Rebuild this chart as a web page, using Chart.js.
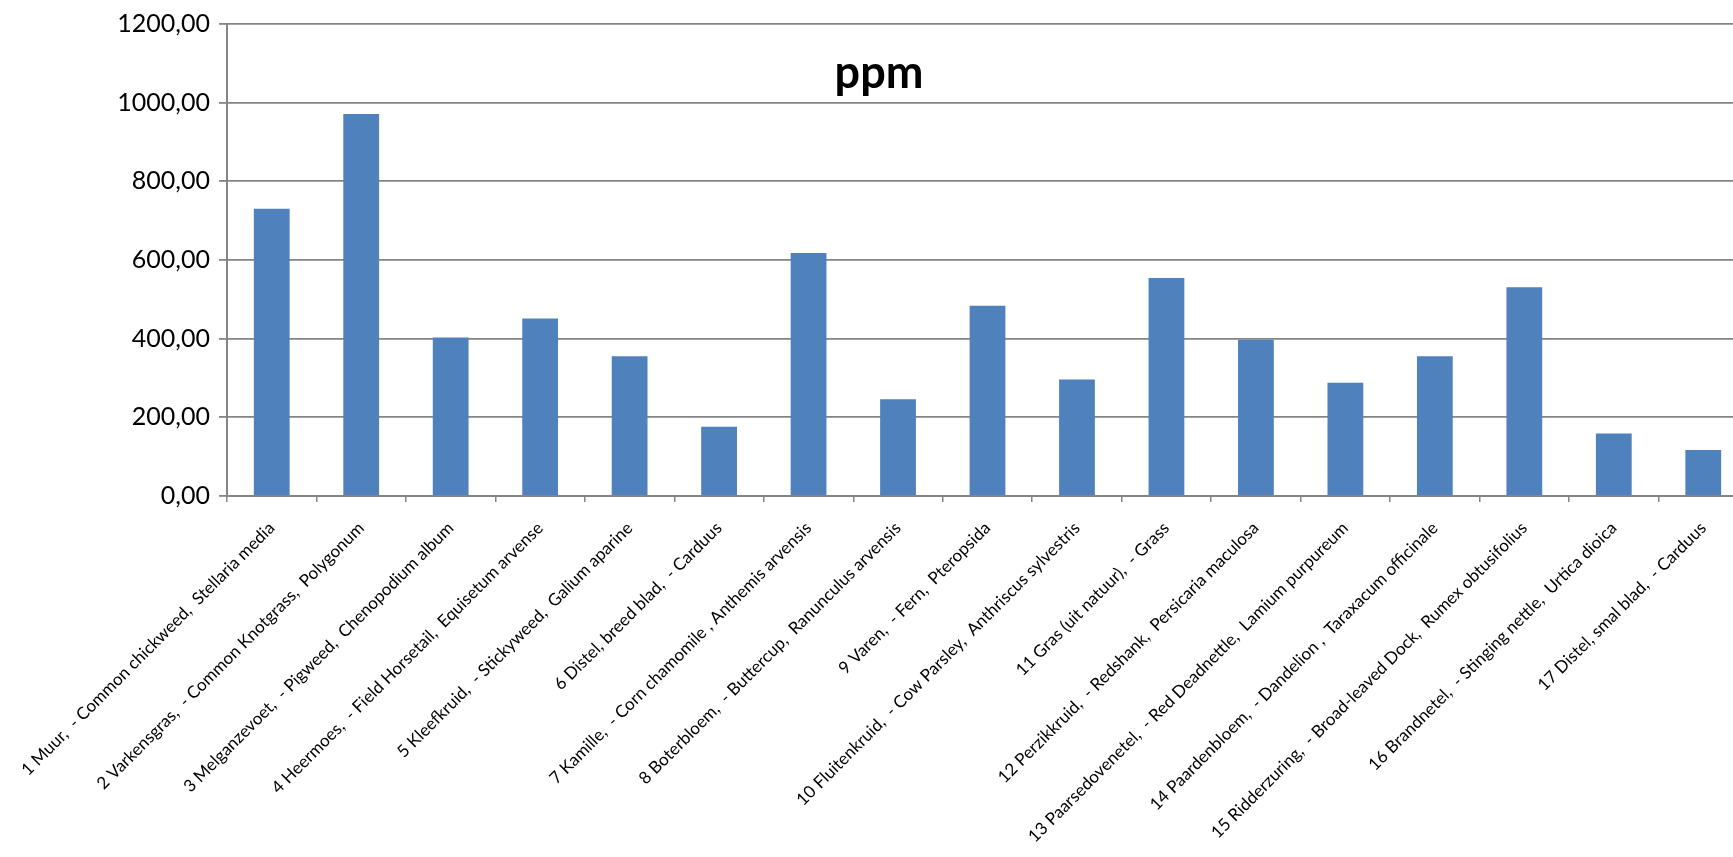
<!DOCTYPE html>
<html>
<head>
<meta charset="utf-8">
<script src="https://cdn.jsdelivr.net/npm/chart.js@4/dist/chart.umd.min.js"></script>
<style>
    html, body { margin: 0; padding: 0; background: #ffffff; overflow: hidden; }
    #wrap { position: relative; width: 1749px; height: 857px; }
</style>
</head>
<body>
<div id="wrap"><canvas id="chartPpm"></canvas></div>
<script>
// Categorieën (onkruiden) en gemeten waarden in ppm
const categorieen = [
    '1 Muur,  - Common chickweed,  Stellaria media',
    '2 Varkensgras,  - Common Knotgrass,  Polygonum',
    '3 Melganzevoet,  - Pigweed,  Chenopodium album',
    '4 Heermoes,  - Field Horsetail,  Equisetum arvense',
    '5 Kleefkruid,  - Stickyweed,  Galium aparine',
    '6 Distel, breed blad,  - Carduus',
    '7 Kamille,  - Corn chamomile , Anthemis arvensis',
    '8 Boterbloem,  - Buttercup,  Ranunculus arvensis',
    '9 Varen,  - Fern,  Pteropsida',
    '10 Fluitenkruid,  - Cow Parsley,  Anthriscus sylvestris',
    '11 Gras (uit natuur),  - Grass',
    '12 Perzikkruid,  - Redshank,  Persicaria maculosa',
    '13 Paarsedovenetel,  - Red Deadnettle,  Lamium purpureum',
    '14 Paardenbloem,  - Dandelion ,  Taraxacum officinale',
    '15 Ridderzuring,  - Broad-leaved Dock,  Rumex obtusifolius',
    '16 Brandnetel,  - Stinging nettle,  Urtica dioica',
    '17 Distel, smal blad,  - Carduus'
];

const waarden = [730, 971, 403, 451, 355, 176, 618, 246, 484, 296, 554, 397, 288, 355, 531, 159, 117];

const titel = 'ppm';
const yMin = 0;
const yMax = 1200;
const yStap = 200;

const C = {
    bar: '#4f81bd',
    grid: '#858585',
    text: '#000000',
};

const FONT = "Lato, 'Open Sans', sans-serif";

// titel staat in het plotvlak (zoals in Excel), dus zelf tekenen
const titelPlugin = {
    id: 'titelPlugin',
    afterDraw(chart) {
        const ctx = chart.ctx;
        ctx.save();
        ctx.font = 'bold 45px ' + FONT;
        ctx.fillStyle = C.text;
        ctx.textAlign = 'center';
        ctx.textBaseline = 'alphabetic';
        ctx.fillText(titel, 879, 88);
        ctx.restore();
    }
};

new Chart(document.getElementById('chartPpm'), {
    type: 'bar',
    data: {
        labels: categorieen,
        datasets: [{
            label: titel,
            data: waarden,
            backgroundColor: C.bar,
            borderWidth: 0,
            categoryPercentage: 1.0,
            barPercentage: 0.4,
        }]
    },
    options: {
        responsive: true,
        maintainAspectRatio: false,
        animation: false,
        layout: { padding: { top: 16, right: 1, bottom: 0, left: 0 } },
        plugins: {
            legend: { display: false },
            tooltip: { enabled: false },
        },
        scales: {
            x: {
                grid: {
                    display: true,
                    drawOnChartArea: false,
                    drawTicks: true,
                    tickLength: 6,
                    color: C.grid,
                    lineWidth: 1.5,
                },
                border: { color: C.grid, width: 2 },
                ticks: {
                    autoSkip: false,
                    maxRotation: 45,
                    minRotation: 45,
                    padding: 16,
                    color: C.text,
                    font: { family: FONT, size: 17 },
                },
                afterFit: s => { s.height = 361; }
            },
            y: {
                min: yMin,
                max: yMax,
                grid: {
                    color: C.grid,
                    lineWidth: 1.8,
                    tickLength: 8,
                },
                border: { color: C.grid, width: 2 },
                ticks: {
                    stepSize: yStap,
                    padding: 9,
                    color: C.text,
                    font: { family: FONT, size: 25 },
                    callback: v => v.toFixed(2).replace('.', ','),
                },
                afterFit: s => { s.width = 227; }
            }
        }
    },
    plugins: [titelPlugin]
});
</script>
</body>
</html>
